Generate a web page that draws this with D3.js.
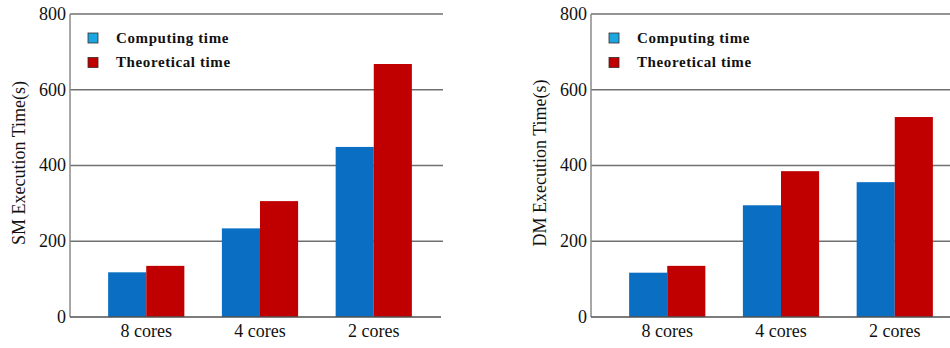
<!DOCTYPE html>
<html>
<head>
<meta charset="utf-8">
<script src="https://cdn.jsdelivr.net/npm/d3@7"></script>
<style>
  body { margin: 0; background: #fff; }
  svg { display: block; }
  text { font-family: "Liberation Serif", "Times New Roman", serif; }
</style>
</head>
<body>
<div id="vis"></div>
<script>
const FRAME_WIDTH = 950;
const FRAME_HEIGHT = 348;

// data
const categories = ["8 cores", "4 cores", "2 cores"];
const seriesNames = ["Computing time", "Theoretical time"];
const smComputing = [118, 234, 449];
const smTheoretical = [135, 306, 668];
const dmComputing = [117, 295, 356];
const dmTheoretical = [135, 385, 528];
const yTicks = [0, 200, 400, 600, 800];

const BAR_COLORS = ["#0a6fc2", "#c00000"];
const KEY_COLORS = ["#1aa6e0", "#c00000"];

const FRAME = d3.select("#vis")
  .append("svg")
    .attr("width", FRAME_WIDTH)
    .attr("height", FRAME_HEIGHT);

function draw_panel(left, right, yLabel, computing, theoretical, labelX) {
  const g = FRAME.append("g");

  const X_SCALE = d3.scaleBand()
    .domain(categories)
    .range([left + 4, left + 376])
    .paddingInner(0.33)
    .paddingOuter(0.3);

  const X_SUB = d3.scaleBand()
    .domain(seriesNames)
    .range([0, X_SCALE.bandwidth()]);

  const Y_SCALE = d3.scaleLinear()
    .domain([0, 800])
    .range([317, 14]);

  // grid lines
  g.selectAll(".grid")
    .data(yTicks.filter(d => d > 0))
    .enter()
    .append("line")
      .attr("x1", left)
      .attr("x2", right)
      .attr("y1", d => Y_SCALE(d))
      .attr("y2", d => Y_SCALE(d))
      .attr("stroke", "#707070")
      .attr("stroke-width", 1.5);

  // bars
  const rows = categories.map((c, i) => ({cat: c, vals: [computing[i], theoretical[i]]}));
  g.selectAll(".grp")
    .data(rows)
    .enter()
    .append("g")
      .attr("transform", d => "translate(" + X_SCALE(d.cat) + ",0)")
    .selectAll("rect")
    .data(d => d.vals.map((v, j) => ({name: seriesNames[j], v: v, j: j})))
    .enter()
    .append("rect")
      .attr("x", d => X_SUB(d.name))
      .attr("width", X_SUB.bandwidth())
      .attr("y", d => Y_SCALE(d.v))
      .attr("height", d => Y_SCALE(0) - Y_SCALE(d.v))
      .attr("fill", d => BAR_COLORS[d.j]);

  // axes lines
  g.append("line")
    .attr("x1", left).attr("x2", left)
    .attr("y1", Y_SCALE(800)).attr("y2", Y_SCALE(0))
    .attr("stroke", "#8a8a8a").attr("stroke-width", 1.5);
  g.append("line")
    .attr("x1", left).attr("x2", right - 2)
    .attr("y1", Y_SCALE(0)).attr("y2", Y_SCALE(0))
    .attr("stroke", "#505050").attr("stroke-width", 1.5);

  // y tick labels
  g.selectAll(".ytick")
    .data(yTicks)
    .enter()
    .append("text")
      .attr("x", left - 4)
      .attr("y", d => Y_SCALE(d))
      .attr("dy", "0.32em")
      .attr("text-anchor", "end")
      .attr("font-size", "18px")
      .attr("fill", "#111")
      .text(d => d);

  // x labels
  g.selectAll(".xlab")
    .data(categories)
    .enter()
    .append("text")
      .attr("x", d => X_SCALE(d) + X_SCALE.bandwidth() / 2)
      .attr("y", 337)
      .attr("text-anchor", "middle")
      .attr("font-size", "18px")
      .attr("fill", "#111")
      .text(d => d);

  // y axis title
  g.append("text")
    .attr("transform", "translate(" + labelX + ",163) rotate(-90)")
    .attr("text-anchor", "middle")
    .attr("font-size", "18px")
    .attr("fill", "#111")
    .text(yLabel);

  // legend
  const key = g.selectAll(".key")
    .data(seriesNames)
    .enter()
    .append("g")
      .attr("transform", (d, i) => "translate(" + (left + 18) + "," + (33 + i * 24.5) + ")");
  key.append("rect")
    .attr("width", 10).attr("height", 10)
    .attr("fill", (d, i) => KEY_COLORS[i])
    .attr("stroke", "#3a2a2a").attr("stroke-width", 0.8);
  key.append("text")
    .attr("x", 28)
    .attr("y", 9.5)
    .attr("font-size", "15px")
    .attr("font-weight", "bold")
    .attr("letter-spacing", "0.6px")
    .attr("fill", "#111")
    .text(d => d);
}

draw_panel(70, 443, "SM Execution Time(s)", smComputing, smTheoretical, 25);
draw_panel(591, 952, "DM Execution Time(s)", dmComputing, dmTheoretical, 546);
</script>
</body>
</html>
